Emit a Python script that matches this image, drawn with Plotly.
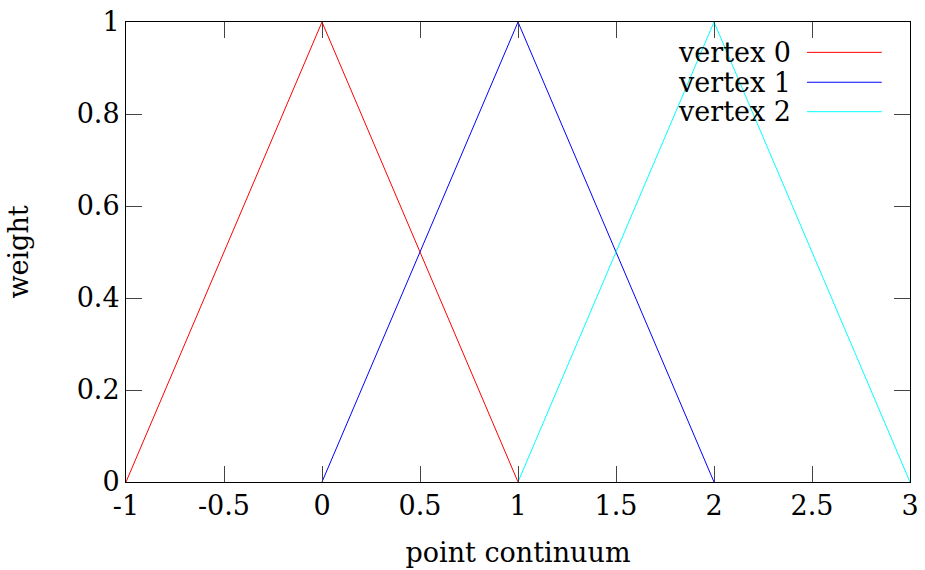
import plotly.graph_objects as go

names = ["vertex 0", "vertex 1", "vertex 2"]
colors = ["#ff0000", "#0000ff", "#00ffff"]
xs = [[-1, 0, 1], [0, 1, 2], [1, 2, 3]]
ys = [[0, 1, 0], [0, 1, 0], [0, 1, 0]]
xticks = [-1, -0.5, 0, 0.5, 1, 1.5, 2, 2.5, 3]
yticks = [0, 0.2, 0.4, 0.6, 0.8, 1]

FONT = "DejaVu Serif"
FS = 27

fig = go.Figure()
for n, c, x, y in zip(names, colors, xs, ys):
    fig.add_trace(go.Scatter(x=x, y=y, mode="lines", name=n,
                             line=dict(color=c, width=1), showlegend=False))

# gnuplot-style legend: text right-aligned, sample line on the right
rows = [0.934, 0.869, 0.805]
for n, c, ry in zip(names, colors, rows):
    fig.add_annotation(x=0.851, y=ry, xref="paper", yref="paper", text=n,
                       showarrow=False, xanchor="right", yanchor="middle",
                       font=dict(family=FONT, size=FS, color="black"))
    fig.add_shape(type="line", xref="paper", yref="paper",
                  x0=0.8686, x1=0.964, y0=ry, y1=ry,
                  line=dict(color=c, width=1))

axis_common = dict(showline=True, linecolor="black", linewidth=1, mirror="allticks",
                   ticks="inside", ticklen=16, tickcolor="#444", tickwidth=1,
                   showgrid=False, zeroline=False, automargin=False,
                   tickfont=dict(family=FONT, size=FS, color="black"))

fig.update_layout(
    width=925, height=570,
    margin=dict(l=126, r=15, t=22, b=88),
    paper_bgcolor="white", plot_bgcolor="white",
    xaxis=dict(range=[-1, 3], tickvals=xticks, ticktext=[f"{v:g}" for v in xticks],
               title=dict(text="point continuum", font=dict(family=FONT, size=FS, color="black"), standoff=22),
               **axis_common),
    yaxis=dict(range=[0, 1], tickvals=yticks, ticktext=[f"{v:g}" for v in yticks],
               title=dict(text="weight", font=dict(family=FONT, size=FS, color="black"), standoff=40),
               **axis_common),
)
fig.write_html("out.html")
